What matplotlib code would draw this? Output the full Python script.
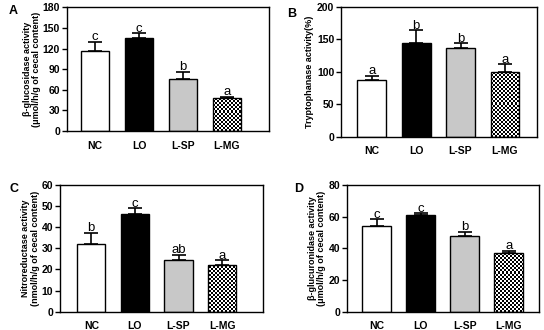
import numpy as np
import matplotlib
matplotlib.use("Agg")
import matplotlib.pyplot as plt

plt.rcParams['font.family'] = ['Liberation Sans', 'DejaVu Sans']

categories = ['NC', 'LO', 'L-SP', 'L-MG']

a_mean = [117, 136, 75, 47.5]
a_err = [12.5, 6.5, 11.5, 2.5]
a_sig = ['c', 'c', 'b', 'a']

b_mean = [87, 144.6, 136, 100]
b_err = [7, 19, 8, 11]
b_sig = ['a', 'b', 'b', 'a']

c_mean = [32.2, 46.4, 24.6, 22.2]
c_err = [5.1, 2.7, 2.4, 2.2]
c_sig = ['b', 'c', 'ab', 'a']

d_mean = [54.3, 61, 47.8, 37]
d_err = [4, 1.1, 2.7, 1.5]
d_sig = ['c', 'c', 'b', 'a']

fig = plt.figure(figsize=(5.44, 3.30), dpi=100)

panels = [
    dict(pos=[0.123, 0.603, 0.371, 0.375], mean=a_mean, err=a_err, sig=a_sig,
         ylim=(0, 180), yticks=np.arange(0, 181, 30), xlim=(-0.64, 3.95),
         ylabel='β-glucosidase activity\n(μmol/h/g of cecal content)',
         letter='A', lpos=(9, 11), labelpad=1),
    dict(pos=[0.627, 0.586, 0.360, 0.394], mean=b_mean, err=b_err, sig=b_sig,
         ylim=(0, 200), yticks=np.arange(0, 201, 50), xlim=(-0.69, 3.72),
         ylabel='Tryptophanase activity(%)',
         letter='B', lpos=(287, 14), labelpad=2),
    dict(pos=[0.110, 0.0555, 0.373, 0.384], mean=c_mean, err=c_err, sig=c_sig,
         ylim=(0, 60), yticks=np.arange(0, 61, 10), xlim=(-0.72, 3.93),
         ylabel='Nitroreductase activity\n(nmol/h/g of cecal content)',
         letter='C', lpos=(10, 189), labelpad=1),
    dict(pos=[0.638, 0.0555, 0.352, 0.384], mean=d_mean, err=d_err, sig=d_sig,
         ylim=(0, 80), yticks=np.arange(0, 81, 20), xlim=(-0.67, 3.68),
         ylabel='β-glucuronidase activity\n(μmol/h/g of cecal content)',
         letter='D', lpos=(294, 189), labelpad=1.5),
]

colors = ['white', 'black', '#c8c8c8', 'white']
W, H = 544, 330

for p in panels:
    ax = fig.add_axes(p['pos'])
    x = np.arange(len(categories))
    bars = ax.bar(x, p['mean'], width=0.65, color=colors, edgecolor='black',
                  linewidth=1.0, zorder=2)
    ax.errorbar(x, p['mean'], yerr=[np.zeros(len(x)), p['err']], fmt='none',
                ecolor='black', elinewidth=1.2, capsize=5, capthick=1.2, zorder=1)
    ax.set_xlim(*p['xlim'])
    ax.set_ylim(*p['ylim'])
    ax.set_yticks(p['yticks'])
    ax.set_xticks(x)
    ax.set_xticklabels(categories, fontsize=7.5, fontweight='bold')
    for t in ax.get_yticklabels():
        t.set_fontsize(7.5)
        t.set_fontweight('bold')
    ax.tick_params(axis='x', length=0, pad=7)
    ax.tick_params(axis='y', length=3.5, width=1.0, pad=1.5)
    for s in ax.spines.values():
        s.set_linewidth(1.0)
    ax.set_ylabel(p['ylabel'], fontsize=6.5, fontweight='bold', labelpad=p['labelpad'],
                  linespacing=1.1)

    # checkerboard fill for the last bar
    chk = bars[3]
    chk.set_facecolor('none')
    chk.set_zorder(3)
    bb = ax.get_position()
    nx = int(bb.width * W / 2)
    ny = int(bb.height * H / 2)
    board = (np.indices((ny, nx)).sum(axis=0) % 2).astype(float)
    xl = ax.get_xlim(); yl = ax.get_ylim()
    im = ax.imshow(board, cmap='gray', interpolation='nearest', aspect='auto',
                   extent=[xl[0], xl[1], yl[0], yl[1]], zorder=2.5)
    im.set_clip_path(chk)
    ax.set_xlim(*xl); ax.set_ylim(*yl)

    span = p['ylim'][1] - p['ylim'][0]
    for xi, m, e, s in zip(x, p['mean'], p['err'], p['sig']):
        ax.text(xi, m + e - span * 0.012, s, ha='center', va='bottom', fontsize=9.5)

    fig.text(p['lpos'][0] / W, 1 - p['lpos'][1] / H, p['letter'], fontsize=9,
             fontweight='bold', ha='left', va='center')

fig.savefig('out.png', dpi=100)
